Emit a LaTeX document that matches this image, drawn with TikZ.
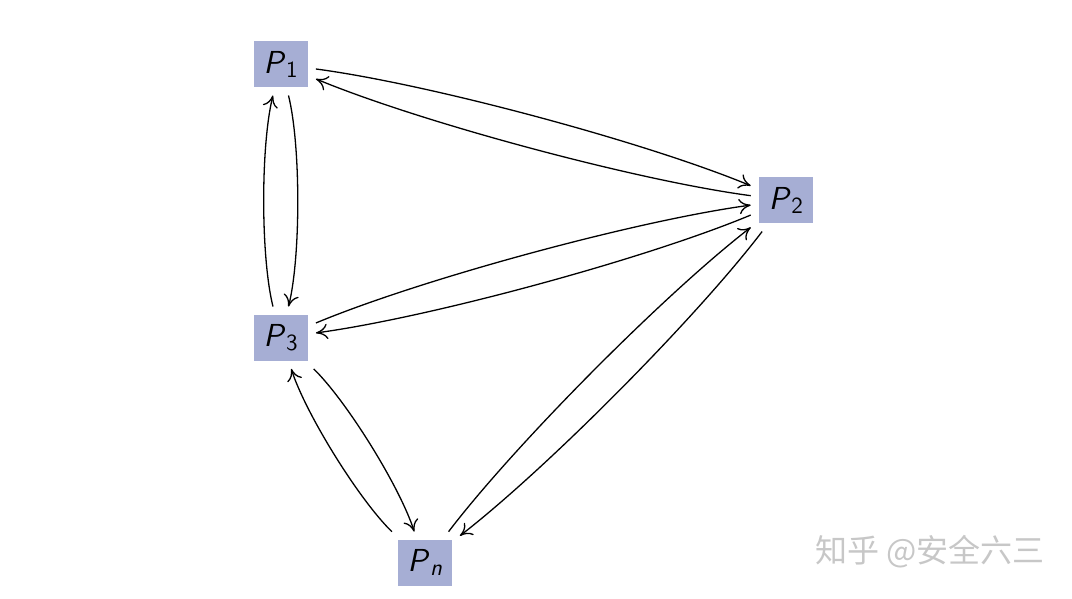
\documentclass[tikz,border=0pt]{standalone}
\usepackage{fontspec}
\newfontfamily\cjkfont{Noto Sans CJK SC}
\usepackage{xcolor}
\usetikzlibrary{arrows.meta}
\definecolor{procblue}{RGB}{166,174,212}
\newcommand{\procname}[1]{\textit{P}\kern0.2pt\raisebox{-1.7pt}{\fontsize{9.8}{11}\selectfont #1}}

\begin{document}
\begin{tikzpicture}[
  proc/.style   = {rectangle, fill=procblue, inner sep=0pt,
                   minimum width=0.81cm, minimum height=0.69cm, outer sep=0.12cm,
                   font=\fontsize{13.5}{16}\selectfont\sffamily},
  arr/.style    = {-{To[length=5pt, width=6.5pt]}, line width=0.55pt},
  longbend/.style  = {bend left=7.5, looseness=0.65},
  shortbend/.style = {bend left=14, looseness=0.62},
  wmark/.style  = {font=\fontsize{13.6}{15}\selectfont\cjkfont, text=black!22},
]
\useasboundingbox (0,0) rectangle (16,-8.94);

\node[proc] (P1) at (4.19,-0.96) {\procname{1}};
\node[proc] (P2) at (11.73,-2.99) {\procname{2}};
\node[proc] (P3) at (4.19,-5.04) {\procname{3}};
\node[proc] (Pn) at (6.34,-8.40) {\procname{\textit{n}}};

\draw[arr] (P1) to[longbend]  (P2);
\draw[arr] (P2) to[longbend]  (P1);
\draw[arr] (P1) to[shortbend] (P3);
\draw[arr] (P3) to[shortbend] (P1);
\draw[arr] (P3) to[longbend]  (P2);
\draw[arr] (P2) to[longbend]  (P3);
\draw[arr] (P3) to[shortbend] (Pn);
\draw[arr] (Pn) to[shortbend] (P3);
\draw[arr] (Pn) to[longbend]  (P2);
\draw[arr] (P2) to[longbend]  (Pn);

\node[wmark] (wm) at (13.88,-8.24) {知乎 @安全六三};
\end{tikzpicture}
\end{document}
